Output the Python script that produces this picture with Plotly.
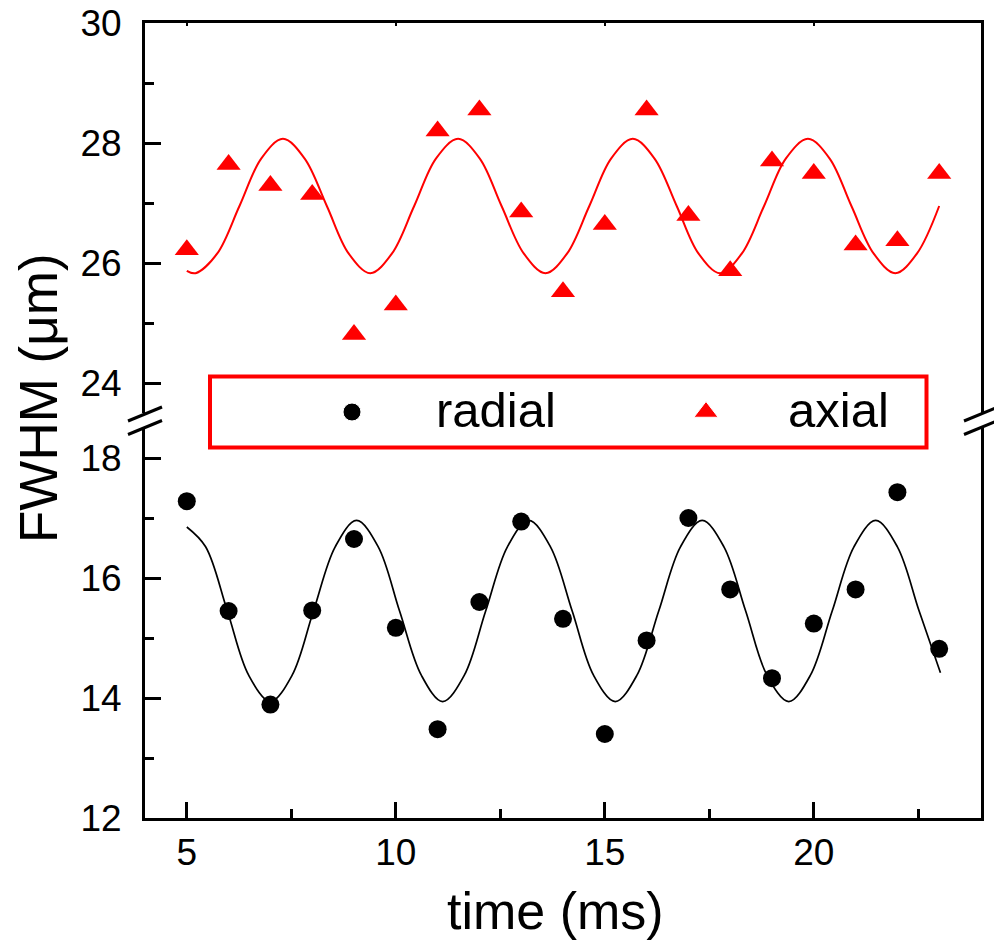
import plotly.graph_objects as go

# ---------------- data ----------------
time_ms = [5, 6, 7, 8, 9, 10, 11, 12, 13, 14, 15, 16, 17, 18, 19, 20, 21, 22, 23]
radial = [17.28, 15.45, 13.89, 15.46, 16.65, 15.17, 13.48, 15.60, 16.94, 15.32,
          13.40, 14.96, 17.00, 15.81, 14.33, 15.24, 15.81, 17.43, 14.82]
axial = [26.22, 27.64, 27.29, 27.14, 24.81, 25.30, 28.20, 28.55, 26.85, 25.52,
         26.64, 28.55, 26.79, 25.87, 27.70, 27.49, 26.30, 26.37, 27.49]

# fitted curves at extrema, crossings and eighth-period points
radial_fit_t = [5.00, 5.45, 5.97, 6.48, 7.00, 7.52, 8.03, 8.55, 9.06, 9.58, 10.09, 10.61,
                11.12, 11.64, 12.15, 12.67, 13.18, 13.70, 14.22, 14.73, 15.25, 15.77,
                16.29, 16.81, 17.33, 17.85, 18.37, 18.88, 19.40, 19.92, 20.44, 20.96,
                21.48, 22.00, 22.52, 23.03]
radial_fit_v = [16.85, 16.52, 15.45, 14.38, 13.94, 14.38, 15.45, 16.52, 16.96, 16.52, 15.45, 14.38,
                13.94, 14.38, 15.45, 16.52, 16.96, 16.52, 15.45, 14.38, 13.94, 14.38,
                15.45, 16.52, 16.96, 16.52, 15.45, 14.38, 13.94, 14.38, 15.45, 16.52,
                16.96, 16.52, 15.45, 14.42]
axial_fit_t = [5.00, 5.21, 5.73, 6.26, 6.78, 7.30, 7.82, 8.35, 8.87, 9.39, 9.91, 10.44,
               10.96, 11.49, 12.01, 12.53, 13.06, 13.58, 14.10, 14.63, 15.15, 15.67,
               16.19, 16.72, 17.24, 17.76, 18.28, 18.81, 19.33, 19.86, 20.38, 20.90,
               21.43, 21.95, 22.47, 23.00]
axial_fit_v = [25.87, 25.83, 26.16, 26.95, 27.74, 28.07, 27.74, 26.95, 26.16, 25.83, 26.16, 26.95,
               27.74, 28.07, 27.74, 26.95, 26.16, 25.83, 26.16, 26.95, 27.74, 28.07,
               27.74, 26.95, 26.16, 25.83, 26.16, 26.95, 27.74, 28.07, 27.74, 26.95,
               26.16, 25.83, 26.16, 26.95]

series_names = ["radial", "axial"]
x_label = "time (ms)"
y_label = "FWHM (\u03bcm)"

# ---------------- geometry ----------------
# page body margin is removed (see post_script), so figure pixels = screen pixels
W, H = 994, 946
S_LEFT, S_RIGHT, S_TOP, S_BOT = 145, 981, 23, 818   # plot area
ML, MT, MR, MB = S_LEFT, S_TOP, W - S_RIGHT, H - S_BOT
PW = S_RIGHT - S_LEFT
PH = S_BOT - S_TOP


def px_x(p):
    return (p - S_LEFT) / PW


def px_y(p):
    return (S_BOT - p) / PH


FONT = "Liberation Sans, Arial, sans-serif"
BLACK = "#000000"
RED = "#ff0000"

lower_dom = [0, px_y(428)]
upper_dom = [px_y(413), 1]
legend_dom = [px_y(447.5), px_y(376.5)]

fig = go.Figure()

fig.add_trace(go.Scatter(x=radial_fit_t, y=radial_fit_v, mode="lines",
                         line=dict(color=BLACK, width=1.7, shape="spline"),
                         xaxis="x", yaxis="y", showlegend=False, hoverinfo="skip"))
fig.add_trace(go.Scatter(x=time_ms, y=radial, mode="markers", name=series_names[0],
                         marker=dict(symbol="circle", size=18, color=BLACK, opacity=1),
                         xaxis="x", yaxis="y", showlegend=False))
fig.add_trace(go.Scatter(x=axial_fit_t, y=axial_fit_v, mode="lines",
                         line=dict(color=RED, width=2, shape="spline"),
                         xaxis="x2", yaxis="y2", showlegend=False, hoverinfo="skip"))
fig.add_trace(go.Scatter(x=time_ms, y=axial, mode="markers", name=series_names[1],
                         marker=dict(symbol="triangle-up", size=21, color=RED, opacity=1),
                         xaxis="x2", yaxis="y2", showlegend=False))

# manual legend symbols (placed in an invisible legend sub-area)
leg_x = [px_x(352), px_x(706)]
fig.add_trace(go.Scatter(x=leg_x, y=[0.5, 0.5], mode="markers",
                         marker=dict(symbol=["circle", "triangle-up"], size=[18, 21],
                                     color=[BLACK, RED], opacity=1),
                         xaxis="x3", yaxis="y3", showlegend=False, hoverinfo="skip"))

axis_common = dict(showgrid=False, zeroline=False, showline=True, linewidth=3,
                   linecolor=BLACK, ticks="inside", tickwidth=3, tickcolor=BLACK,
                   ticklen=16, automargin=False, ticklabeloverflow="allow",
                   tickfont=dict(family=FONT, size=37, color=BLACK))

fig.update_layout(
    width=W, height=H,
    margin=dict(l=ML, r=MR, t=MT, b=MB, pad=0, autoexpand=False),
    paper_bgcolor="white", plot_bgcolor="rgba(0,0,0,0)",
    showlegend=False,
    font=dict(family=FONT, color=BLACK),
    xaxis=dict(domain=[0, 1], range=[4, 24], anchor="y", tickmode="linear", tick0=5, dtick=5,
               ticklabelstandoff=0,
               minor=dict(dtick=2.5, ticks="inside", ticklen=9, tickwidth=3, tickcolor=BLACK,
                          showgrid=False),
               **axis_common),
    xaxis2=dict(domain=[0, 1], range=[4, 24], anchor="y2", matches="x", side="top",
                showgrid=False, zeroline=False, showline=True, linewidth=3, linecolor=BLACK,
                ticks="inside", ticklen=3, tickwidth=2, tickcolor=BLACK, automargin=False,
                tickmode="linear", tick0=5, dtick=5, showticklabels=False),
    xaxis3=dict(domain=[0, 1], range=[0, 1], anchor="y3", visible=False, fixedrange=True,
                automargin=False),
    yaxis=dict(domain=lower_dom, range=[12, 18.5], anchor="x", tickmode="linear", tick0=12,
               dtick=2, mirror=True, ticklabelstandoff=13,
               minor=dict(dtick=1, ticks="inside", ticklen=9, tickwidth=3, tickcolor=BLACK,
                          showgrid=False),
               **axis_common),
    yaxis2=dict(domain=upper_dom, range=[23.5, 30], anchor="x2", tickmode="linear", tick0=24,
                dtick=2, mirror=True, ticklabelstandoff=13,
                minor=dict(dtick=1, ticks="inside", ticklen=9, tickwidth=3, tickcolor=BLACK,
                           showgrid=False),
                **axis_common),
    yaxis3=dict(domain=legend_dom, range=[0, 1], anchor="x3", visible=False, fixedrange=True,
                automargin=False),
)

# legend frame
shapes = [dict(type="rect", xref="paper", yref="paper",
               x0=px_x(210), x1=px_x(926.5), y0=px_y(447.5), y1=px_y(376.5),
               line=dict(color=RED, width=4), fillcolor="rgba(0,0,0,0)", layer="above")]

# axis-break marks on left and right spines
for ax_px in (S_LEFT, S_RIGHT):
    for y_mid in (414, 427.5):
        shapes.append(dict(type="line", xref="paper", yref="paper",
                           x0=px_x(ax_px - 17), y0=px_y(y_mid + 7),
                           x1=px_x(ax_px + 17), y1=px_y(y_mid - 7),
                           line=dict(color=BLACK, width=3), layer="above"))
fig.update_layout(shapes=shapes)

annotations = [
    dict(text=series_names[0], xref="paper", yref="paper", x=px_x(434), y=px_y(410),
         xanchor="left", yanchor="middle", showarrow=False,
         font=dict(family=FONT, size=49, color=BLACK)),
    dict(text=series_names[1], xref="paper", yref="paper", x=px_x(786), y=px_y(410),
         xanchor="left", yanchor="middle", showarrow=False,
         font=dict(family=FONT, size=49, color=BLACK)),
    dict(text=x_label, xref="paper", yref="paper", x=px_x(555), y=px_y(911),
         xanchor="center", yanchor="middle", showarrow=False,
         font=dict(family=FONT, size=52, color=BLACK)),
    dict(text=y_label, xref="paper", yref="paper", x=px_x(38), y=px_y(398),
         xanchor="center", yanchor="middle", showarrow=False, textangle=-90,
         font=dict(family=FONT, size=53, color=BLACK)),
]
fig.update_layout(annotations=annotations)

fig.write_html("out.html",
               config={"displayModeBar": False, "staticPlot": True},
               post_script="document.body.style.margin='0px';"
                           "document.documentElement.style.overflow='hidden';")
